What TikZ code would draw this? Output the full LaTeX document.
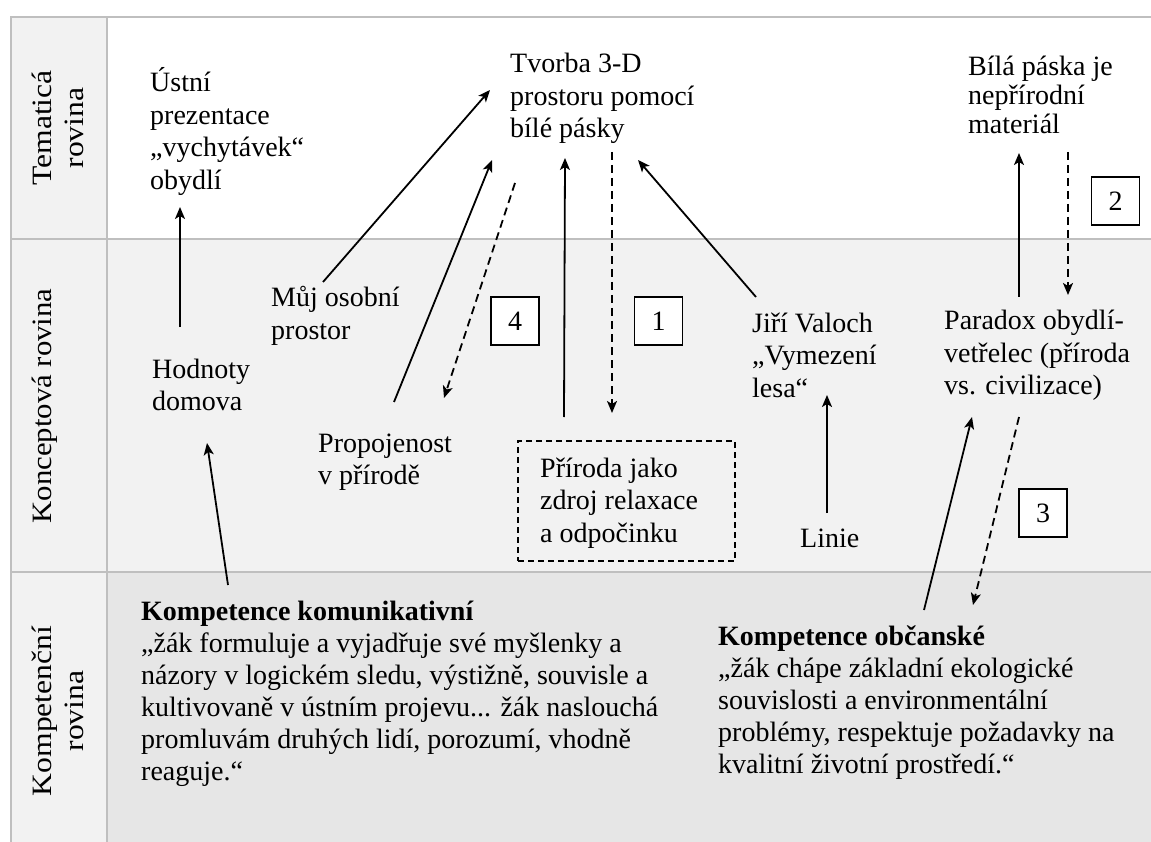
\documentclass[tikz,border=0pt]{standalone}
\usepackage{fontspec}
\setmainfont{Liberation Serif}
\usetikzlibrary{arrows.meta}
\definecolor{gridc}{HTML}{BFBFBF}
\definecolor{lgray}{HTML}{F2F2F2}
\definecolor{mgray}{HTML}{E6E6E6}
\newcommand\tbl[1]{\begin{tabular}[t]{@{}l@{}}#1\end{tabular}}
\newcommand\tbc[1]{\begin{tabular}[t]{@{}c@{}}#1\end{tabular}}
\tikzset{
  gridline/.style={draw=gridc, line width=2pt},
  txt/.style={anchor=base west, inner sep=0pt},
  lbl/.style={rotate=90, anchor=base, inner sep=0pt},
  arr/.style={-{Stealth[length=12pt,width=10pt,inset=3pt]}, line width=1.8pt},
  darr/.style={arr, dash pattern=on 8pt off 5pt},
  numbox/.style={draw, line width=1.3pt, fill=white, minimum width=48pt, minimum height=48pt, inner sep=0pt},
  dbox/.style={draw, line width=1.3pt, dash pattern=on 6pt off 4pt, minimum width=217pt, minimum height=120pt, inner sep=0pt}
}
\begin{document}
\begin{tikzpicture}[x=1pt,y=-1pt,font=\fontsize{28}{32.5}\selectfont]
\useasboundingbox (0,0) rectangle (1151,842);
% backgrounds
\fill[white] (0,0) rectangle (1151,842);
\fill[lgray] (11,17) rectangle (107,842);
\fill[lgray] (107,239) rectangle (1151,572);
\fill[mgray] (107,572) rectangle (1151,842);
% grid
\draw[gridline] (10,17) -- (1151,17);
\draw[gridline] (11,17) -- (11,842);
\draw[gridline] (107,17) -- (107,842);
\draw[gridline] (11,239) -- (1151,239);
\draw[gridline] (11,572) -- (1151,572);
% row labels
\node[lbl] (tem) at (51,128) {\scalebox{1.13}[1]{\tbc{Tematicá\\rovina\hspace{24pt}}}};
\node[lbl] (kon) at (51,406) {\scalebox{1.1}[1]{Konceptová rovina}};
\node[lbl] (kom) at (51,711) {\scalebox{1.13}[1]{\tbc{Kompetenční\\rovina}}};
% texts
\node[txt] (ustni) at (150,92) {\tbl{Ústní\\prezentace\\„vychytávek“\\obydlí}};
\node[txt] (tvorba) at (510,73) {\tbl{Tvorba 3-D\\prostoru pomocí\\bílé pásky}};
\node[txt,font=\fontsize{28}{29}\selectfont] (bila) at (968,76) {\tbl{Bílá páska je\\nepřírodní\\materiál}};
\node[txt] (muj) at (271,307) {\tbl{Můj osobní\\prostor}};
\node[txt] (hodnoty) at (152,378) {\tbl{Hodnoty\\domova}};
\node[txt] (propoj) at (318,452) {\tbl{Propojenost\\v přírodě}};
\node[dbox] (pbox) at (626.5,501) {};
\node[txt] (priroda) at (540,477) {\tbl{Příroda jako\\zdroj relaxace\\a odpočinku}};
\node[txt] (jiri) at (752,332) {\tbl{Jiří Valoch\\„Vymezení\\lesa“}};
\node[txt] (linie) at (800,547) {Linie};
\node[txt] (paradox) at (944,330) {\tbl{Paradox obydlí-\\vetřelec (příroda\\vs. civilizace)}};
\node[txt,font=\fontsize{28}{32}\selectfont] (komun) at (141,620) {\tbl{\textbf{Kompetence komunikativní}\\„žák formuluje a vyjadřuje své myšlenky a\\názory v logickém sledu, výstižně, souvisle a\\kultivovaně v ústním projevu... žák naslouchá\\promluvám druhých lidí, porozumí, vhodně\\reaguje.“}};
\node[txt,font=\fontsize{28}{32}\selectfont] (obc) at (718,645) {\tbl{\textbf{Kompetence občanské}\\„žák chápe základní ekologické\\souvislosti a environmentální\\problémy, respektuje požadavky na\\kvalitní životní prostředí.“}};
% arrow end points
\coordinate (a1) at (180,327); \coordinate (a2) at (180,207);
\coordinate (b1) at (228,585); \coordinate (b2) at (207,443);
\coordinate (c1) at (323,282); \coordinate (c2) at (490,90);
\coordinate (d1) at (394,402); \coordinate (d2) at (492,160);
\coordinate (e1) at (515,183); \coordinate (e2) at (444,398);
\coordinate (f1) at (564,417); \coordinate (f2) at (565,158);
\coordinate (g1) at (612,152); \coordinate (g2) at (612,413);
\coordinate (h1) at (756,297); \coordinate (h2) at (638,160);
\coordinate (i1) at (827,513); \coordinate (i2) at (827,395);
\coordinate (j1) at (1019,297); \coordinate (j2) at (1019,153);
\coordinate (k1) at (1068,152); \coordinate (k2) at (1068,295);
\coordinate (l1) at (924,610); \coordinate (l2) at (972,417);
\coordinate (m1) at (1019,417); \coordinate (m2) at (973,605);
% arrows
\draw[arr] (a1) -- (a2);
\draw[arr] (b1) -- (b2);
\draw[arr] (c1) -- (c2);
\draw[arr] (d1) -- (d2);
\draw[darr] (e1) -- (e2);
\draw[arr] (f1) -- (f2);
\draw[darr] (g1) -- (g2);
\draw[arr] (h1) -- (h2);
\draw[arr] (i1) -- (i2);
\draw[arr] (j1) -- (j2);
\draw[darr] (k1) -- (k2);
\draw[arr] (l1) -- (l2);
\draw[darr] (m1) -- (m2);
% number boxes
\node[numbox] (n4) at (515,321) {4};
\node[numbox] (n1) at (658.5,321) {1};
\node[numbox] (n3) at (1043,513) {3};
\node[numbox] (n2) at (1115.5,201) {2};
\end{tikzpicture}
\end{document}
